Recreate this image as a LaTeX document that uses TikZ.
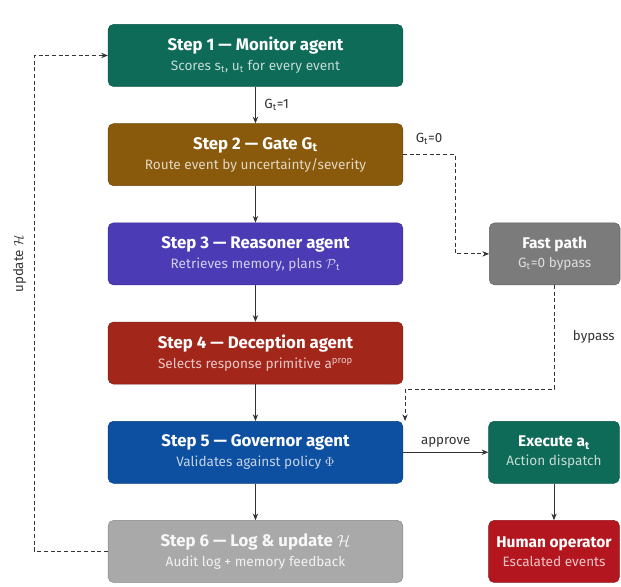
\documentclass[tikz,border=0pt]{standalone}
\usepackage{fontspec}
\setmainfont{Fira Sans}
\usepackage{amsmath,amssymb}
\usetikzlibrary{arrows.meta,positioning,calc}
\definecolor{monitorc}{HTML}{0E6B57}
\definecolor{gatec}{HTML}{8A5A0C}
\definecolor{reasonc}{HTML}{4B3BB5}
\definecolor{decepc}{HTML}{A3261B}
\definecolor{governc}{HTML}{0D4FA0}
\definecolor{logc}{HTML}{A9A9A9}
\definecolor{fastc}{HTML}{7B7B7B}
\definecolor{humanc}{HTML}{B3161E}
\definecolor{linec}{HTML}{333333}
\newcommand{\subl}[1]{{\fontsize{10.2}{12}\selectfont\mdseries #1}}
\newcommand{\sbt}{\textsubscript{t}}

\begin{document}
\begin{tikzpicture}[
  stepbox/.style={rectangle,rounded corners=4pt,minimum width=221pt,minimum height=46.5pt,
    align=center,font=\fontsize{12.6}{15}\selectfont\bfseries,text=white,draw=#1!80!black,fill=#1},
  sidebox/.style={stepbox=#1,minimum width=98pt,font=\fontsize{11.6}{14}\selectfont\bfseries,inner xsep=2pt},
  arr/.style={-{Stealth[length=5pt,width=4pt]},color=linec,line width=0.7pt},
  darr/.style={arr,dashed,dash pattern=on 3pt off 2pt},
  lbl/.style={font=\fontsize{10}{12}\selectfont,text=linec},
]
  \useasboundingbox (0,0) rectangle (465.75pt,-439.5pt);
  \node[stepbox=monitorc] (s1) at (191.6pt,-41.6pt)
    {Step 1 --- Monitor agent\\\color{monitorc!25!white}\subl{Scores s\sbt, u\sbt{} for every event}};
  \node[stepbox=gatec,below=27.5pt of s1] (s2)
    {Step 2 --- Gate G\sbt\\\color{gatec!25!white}\subl{Route event by uncertainty/severity}};
  \node[stepbox=reasonc,below=27.5pt of s2] (s3)
    {Step 3 --- Reasoner agent\\\color{reasonc!25!white}\subl{Retrieves memory, plans $\mathcal{P}$\sbt}};
  \node[stepbox=decepc,below=27.5pt of s3] (s4)
    {Step 4 --- Deception agent\\\color{decepc!25!white}\subl{Selects response primitive a\textsuperscript{prop}}};
  \node[stepbox=governc,below=27.5pt of s4] (s5)
    {Step 5 --- Governor agent\\\color{governc!25!white}\subl{Validates against policy $\Phi$}};
  \node[stepbox=logc,below=27.5pt of s5,text=white!92!logc] (s6)
    {Step 6 --- Log \& update $\mathcal{H}$\\\color{white!85!logc}\subl{Audit log + memory feedback}};
  \node[sidebox=fastc,right=64.5pt of s3] (fast)
    {Fast path\\\color{fastc!25!white}\subl{G\sbt=0 bypass}};
  \node[sidebox=monitorc,right=64pt of s5] (exe)
    {Execute a\sbt\\\color{monitorc!25!white}\subl{Action dispatch}};
  \node[sidebox=humanc,below=27.5pt of exe] (hum)
    {Human operator\\\color{humanc!25!white}\subl{Escalated events}};
  % main chain
  \draw[arr] (s1) -- node[right=3pt,lbl]{G\sbt=1} (s2);
  \draw[arr] (s2) -- (s3); \draw[arr] (s3) -- (s4);
  \draw[arr] (s4) -- (s5); \draw[arr] (s5) -- (s6);
  % side paths
  \draw[darr] (s2.east) -- node[above=4pt,lbl]{G\sbt=0} ++(39pt,0) |- (fast.west);
  \coordinate (byp) at ($(s5.north east)+(1.5pt,24pt)$);
  \draw[darr] (fast.south) |- node[pos=0.25,right=10pt,lbl]{bypass} (byp) -- (byp |- s5.north);
  \draw[arr] (s5.east) -- node[above,lbl]{approve} (exe.west);
  \draw[arr] (exe) -- (hum);
  \draw[darr] (s6.west) -- ++(-55pt,0) |- node[pos=0.29,rotate=90,anchor=south,inner sep=6pt,lbl]{update $\mathcal{H}$} (s1.west);
\end{tikzpicture}
\end{document}
